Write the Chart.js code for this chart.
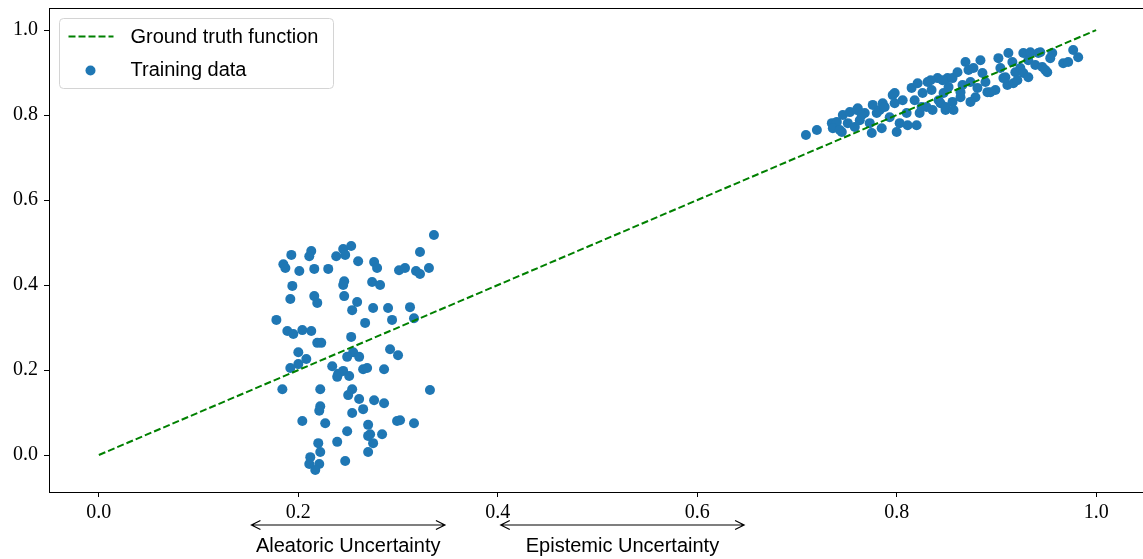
<!DOCTYPE html>
<html>
<head>
<meta charset="utf-8">
<script src="https://cdn.jsdelivr.net/npm/chart.js@4.4.1/dist/chart.umd.min.js"></script>
<style>
  html, body { margin: 0; padding: 0; background: #fff; overflow: hidden; }
</style>
</head>
<body>
<canvas id="grafico" width="1143" height="559"></canvas>
<script>
// Ground truth y = x
var truthX = [0, 1];
var truthY = [0, 1];

// Training data, left cluster (x around 0.18 - 0.34)
var leftX = [0.336, 0.193, 0.213, 0.211, 0.245, 0.253, 0.238, 0.247, 0.185, 0.187, 0.201, 0.216,
  0.230, 0.260, 0.276, 0.279, 0.322, 0.301, 0.307, 0.318, 0.322, 0.331, 0.194, 0.246,
  0.245, 0.274, 0.282, 0.192, 0.216, 0.219, 0.246, 0.259, 0.254, 0.275, 0.290, 0.312,
  0.178, 0.267, 0.294, 0.316, 0.189, 0.195, 0.204, 0.213, 0.253, 0.219, 0.223, 0.200,
  0.208, 0.200, 0.192, 0.292, 0.300, 0.255, 0.249, 0.261, 0.234, 0.245, 0.240, 0.239,
  0.251, 0.265, 0.269, 0.286, 0.184, 0.222, 0.332, 0.254, 0.250, 0.261, 0.276, 0.286,
  0.222, 0.221, 0.254, 0.265, 0.204, 0.227, 0.299, 0.302, 0.316, 0.270, 0.249, 0.272,
  0.270, 0.284, 0.220, 0.239, 0.275, 0.222, 0.270, 0.212, 0.211, 0.221, 0.217, 0.247];
var leftY = [0.518, 0.471, 0.480, 0.468, 0.485, 0.492, 0.468, 0.471, 0.449, 0.440, 0.433, 0.438,
  0.438, 0.456, 0.454, 0.440, 0.478, 0.435, 0.440, 0.433, 0.426, 0.440, 0.398, 0.409,
  0.400, 0.407, 0.400, 0.367, 0.374, 0.358, 0.374, 0.360, 0.341, 0.346, 0.346, 0.348,
  0.318, 0.311, 0.318, 0.322, 0.292, 0.285, 0.294, 0.292, 0.278, 0.264, 0.264, 0.242,
  0.226, 0.214, 0.205, 0.249, 0.235, 0.242, 0.231, 0.231, 0.209, 0.198, 0.191, 0.184,
  0.186, 0.202, 0.205, 0.202, 0.155, 0.155, 0.153, 0.155, 0.141, 0.132, 0.129, 0.122,
  0.115, 0.104, 0.099, 0.108, 0.080, 0.075, 0.080, 0.082, 0.075, 0.071, 0.056, 0.049,
  0.045, 0.049, 0.028, 0.031, 0.028, 0.007, 0.007, -0.005, -0.021, -0.021, -0.035, -0.014];

// Training data, right cluster (x around 0.71 - 0.98)
var rightX = [0.709, 0.720, 0.735, 0.740, 0.736, 0.745, 0.746, 0.753, 0.751, 0.758, 0.761, 0.763,
  0.768, 0.773, 0.775, 0.776, 0.783, 0.785, 0.786, 0.793, 0.798, 0.798, 0.800, 0.803,
  0.806, 0.810, 0.811, 0.815, 0.818, 0.820, 0.821, 0.823, 0.826, 0.830, 0.831, 0.835,
  0.836, 0.841, 0.842, 0.847, 0.849, 0.852, 0.851, 0.743, 0.760, 0.765, 0.780, 0.788,
  0.796, 0.825, 0.834, 0.844, 0.846, 0.856, 0.861, 0.869, 0.866, 0.872, 0.877, 0.874,
  0.879, 0.884, 0.886, 0.889, 0.891, 0.899, 0.902, 0.904, 0.907, 0.911, 0.912, 0.916,
  0.917, 0.919, 0.924, 0.927, 0.927, 0.932, 0.934, 0.939, 0.942, 0.946, 0.951, 0.956,
  0.967, 0.972, 0.977, 0.982, 0.849, 0.856, 0.864, 0.874, 0.857, 0.881, 0.894, 0.864,
  0.921, 0.909, 0.932, 0.949, 0.954, 0.944];
var rightY = [0.753, 0.765, 0.781, 0.784, 0.769, 0.760, 0.800, 0.807, 0.781, 0.772, 0.816, 0.788,
  0.805, 0.781, 0.758, 0.824, 0.812, 0.769, 0.828, 0.795, 0.852, 0.828, 0.760, 0.781,
  0.835, 0.805, 0.776, 0.864, 0.835, 0.776, 0.875, 0.805, 0.852, 0.819, 0.878, 0.859,
  0.812, 0.887, 0.835, 0.852, 0.812, 0.866, 0.887, 0.765, 0.812, 0.800, 0.805, 0.819,
  0.847, 0.819, 0.882, 0.828, 0.882, 0.887, 0.901, 0.925, 0.871, 0.906, 0.911, 0.878,
  0.842, 0.929, 0.899, 0.878, 0.854, 0.859, 0.934, 0.911, 0.887, 0.871, 0.946, 0.925,
  0.875, 0.901, 0.911, 0.946, 0.899, 0.929, 0.948, 0.918, 0.946, 0.913, 0.901, 0.946,
  0.922, 0.925, 0.953, 0.936, 0.819, 0.831, 0.842, 0.831, 0.812, 0.864, 0.854, 0.854,
  0.882, 0.889, 0.889, 0.906, 0.934, 0.948];

var xTicks = [0.0, 0.2, 0.4, 0.6, 0.8, 1.0];
var yTicks = [0.0, 0.2, 0.4, 0.6, 0.8, 1.0];

// arrows under the x axis
var rangeLabels = ['Aleatoric Uncertainty', 'Epistemic Uncertainty'];
var rangeFrom = [0.153, 0.403];
var rangeTo = [0.347, 0.647];

var sansFont = '"Liberation Sans", Arial, sans-serif';
var serifFont = '"Liberation Serif", "Times New Roman", serif';

function toPoints(xs, ys) {
  return xs.map(function (x, i) { return { x: x, y: ys[i] }; });
}

// marco completo del area de datos (como los spines de matplotlib)
const framePlugin = {
  id: 'frame',
  afterDatasetsDraw(chart) {
    const a = chart.chartArea, ctx = chart.ctx;
    ctx.save();
    ctx.strokeStyle = '#000';
    ctx.lineWidth = 1;
    ctx.strokeRect(Math.round(a.left) + 0.5, Math.round(a.top) + 0.5,
      Math.round(a.right - a.left), Math.round(a.bottom - a.top));
    ctx.restore();
  }
};

// leyenda dentro del area, arriba a la izquierda
const legendPlugin = {
  id: 'boxLegend',
  afterDraw(chart) {
    const a = chart.chartArea, ctx = chart.ctx;
    const ds = chart.data.datasets;
    const bx = a.left + 10.5, by = a.top + 10.5, bw = 274, bh = 70;
    ctx.save();
    ctx.beginPath();
    ctx.roundRect(bx, by, bw, bh, 4);
    ctx.fillStyle = 'rgba(255,255,255,0.8)';
    ctx.fill();
    ctx.strokeStyle = '#d4d4d4';
    ctx.lineWidth = 1;
    ctx.stroke();

    ctx.font = '20px ' + sansFont;
    ctx.fillStyle = '#000';
    ctx.textBaseline = 'middle';
    // line entry
    ctx.beginPath();
    ctx.setLineDash(ds[0].borderDash);
    ctx.strokeStyle = ds[0].borderColor;
    ctx.lineWidth = ds[0].borderWidth;
    ctx.moveTo(bx + 9, by + 18);
    ctx.lineTo(bx + 54, by + 18);
    ctx.stroke();
    ctx.setLineDash([]);
    ctx.fillText(ds[0].label, bx + 71, by + 19);
    // scatter entry
    ctx.beginPath();
    ctx.arc(bx + 31, by + 52, ds[1].pointRadius, 0, Math.PI * 2);
    ctx.fillStyle = ds[1].backgroundColor;
    ctx.fill();
    ctx.fillStyle = '#000';
    ctx.fillText(ds[1].label, bx + 71, by + 52);
    ctx.restore();
  }
};

// flechas dobles con texto debajo del eje x
const rangePlugin = {
  id: 'ranges',
  afterDraw(chart) {
    const ctx = chart.ctx, xs = chart.scales.x;
    const y = 525, head = 9, half = 4.5;
    ctx.save();
    ctx.strokeStyle = '#000';
    ctx.fillStyle = '#000';
    ctx.lineWidth = 1.2;
    ctx.font = '20px ' + sansFont;
    ctx.textAlign = 'center';
    ctx.textBaseline = 'alphabetic';
    for (let i = 0; i < rangeLabels.length; i++) {
      const x1 = xs.getPixelForValue(rangeFrom[i]);
      const x2 = xs.getPixelForValue(rangeTo[i]);
      ctx.beginPath();
      ctx.moveTo(x1, y); ctx.lineTo(x2, y);
      ctx.moveTo(x1 + head, y - half); ctx.lineTo(x1, y); ctx.lineTo(x1 + head, y + half);
      ctx.moveTo(x2 - head, y - half); ctx.lineTo(x2, y); ctx.lineTo(x2 - head, y + half);
      ctx.stroke();
      ctx.fillText(rangeLabels[i], (x1 + x2) / 2, 552);
    }
    ctx.restore();
  }
};

new Chart(document.getElementById('grafico'), {
  type: 'scatter',
  data: {
    datasets: [{
      type: 'line',
      label: 'Ground truth function',
      data: toPoints(truthX, truthY),
      borderColor: '#008000',
      borderWidth: 2,
      borderDash: [7, 3],
      pointRadius: 0,
      fill: false,
      order: 0
    }, {
      label: 'Training data',
      data: toPoints(leftX.concat(rightX), leftY.concat(rightY)),
      backgroundColor: '#1f77b4',
      borderWidth: 0,
      pointRadius: 5,
      order: 1
    }]
  },
  options: {
    responsive: false,
    animation: false,
    layout: { autoPadding: false, padding: { top: 8, left: 0, right: 0, bottom: 0 } },
    plugins: {
      legend: { display: false },
      tooltip: { enabled: false }
    },
    scales: {
      x: {
        type: 'linear',
        min: -0.05,
        max: 1.047,
        afterFit: function (s) { s.height = 67; s.paddingLeft = 0; s.paddingRight = 0; },
        afterBuildTicks: function (s) { s.ticks = xTicks.map(function (v) { return { value: v }; }); },
        grid: { drawOnChartArea: false, drawTicks: true, tickLength: 5, color: '#000' },
        border: { display: false },
        ticks: {
          autoSkip: false, maxRotation: 0, padding: 4, color: '#000',
          font: { family: serifFont, size: 20 },
          callback: function (v) { return v.toFixed(1); }
        }
      },
      y: {
        type: 'linear',
        min: -0.087,
        max: 1.052,
        afterFit: function (s) { s.width = 49; s.paddingTop = 0; s.paddingBottom = 0; },
        afterBuildTicks: function (s) { s.ticks = yTicks.map(function (v) { return { value: v }; }); },
        grid: { drawOnChartArea: false, drawTicks: true, tickLength: 5, color: '#000' },
        border: { display: false },
        ticks: {
          autoSkip: false, padding: 6, color: '#000',
          font: { family: serifFont, size: 20 },
          callback: function (v) { return v.toFixed(1); }
        }
      }
    }
  },
  plugins: [framePlugin, legendPlugin, rangePlugin]
});
</script>
</body>
</html>
